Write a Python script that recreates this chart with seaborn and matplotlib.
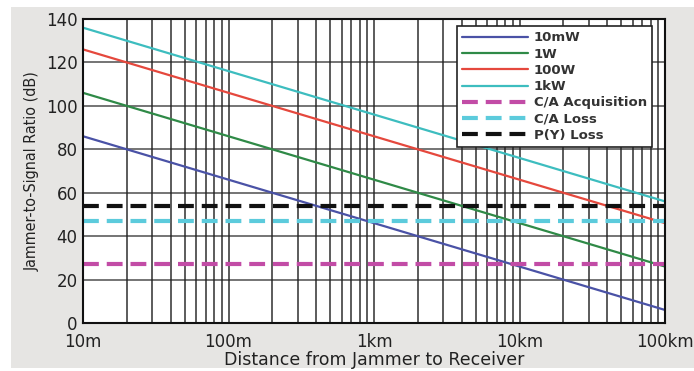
import matplotlib
matplotlib.use("Agg")
import matplotlib.pyplot as plt
import seaborn as sns
from matplotlib.ticker import FixedLocator, NullFormatter

sns.set_theme(style="white")
plt.rcParams["font.family"] = ["DejaVu Sans"]

# distances in metres and J/S values (dB)
distance_m = [10, 100, 1000, 10000, 100000]
js_10mw = [86, 66, 46, 26, 6]
js_1w = [106, 86, 66, 46, 26]
js_100w = [126, 106, 86, 66, 46]
js_1kw = [136, 116, 96, 76, 56]

threshold_names = ["C/A Acquisition", "C/A Loss", "P(Y) Loss"]
threshold_db = [27, 47, 54]

x_tick_vals = [10, 100, 1000, 10000, 100000]
x_tick_labels = ["10m", "100m", "1km", "10km", "100km"]
y_tick_vals = [0, 20, 40, 60, 80, 100, 120, 140]

fig = plt.figure(figsize=(6.94, 3.71), dpi=100)
fig.patch.set_facecolor("white")
# gray panel behind the chart
bg = fig.add_axes([11 / 694, 3 / 371, 683 / 694, 361 / 371])
bg.set_facecolor("#e6e5e3")
bg.set_xticks([])
bg.set_yticks([])
for s in bg.spines.values():
    s.set_visible(False)

ax = fig.add_axes([83 / 694, 48 / 371, 582 / 694, 304 / 371])
ax.set_facecolor("white")

series = [("10mW", js_10mw, "#4a52a6"), ("1W", js_1w, "#2f8a47"),
          ("100W", js_100w, "#e5483d"), ("1kW", js_1kw, "#3dbdbf")]
for name, vals, col in series:
    sns.lineplot(x=distance_m, y=vals, ax=ax, color=col, lw=1.6, label=name)

th_colors = ["#c24ca6", "#5ccbdc", "#111111"]
for name, val, col in zip(threshold_names, threshold_db, th_colors):
    sns.lineplot(x=[distance_m[0], distance_m[-1]], y=[val, val], ax=ax,
                 color=col, lw=3, label=name)
    ax.lines[-1].set_dashes([3.8, 1.9])

ax.set_xscale("log")
ax.set_xlim(10, 100000)
ax.set_ylim(0, 140)
ax.set_xticks(x_tick_vals)
ax.set_xticklabels(x_tick_labels)
ax.xaxis.set_minor_locator(FixedLocator(
    [m * d for d in x_tick_vals[:-1] for m in range(2, 10)]))
ax.xaxis.set_minor_formatter(NullFormatter())
ax.set_yticks(y_tick_vals)
ax.grid(True, which="both", axis="x", color="#222222", lw=1.3, alpha=0.8)
ax.grid(True, which="major", axis="y", color="#222222", lw=1.1, alpha=0.8)
ax.tick_params(axis="both", which="both", length=0, labelsize=12,
               labelcolor="#222222")
ax.tick_params(axis="x", pad=7)
ax.tick_params(axis="y", pad=4)
for s in ax.spines.values():
    s.set_color("#111111")
    s.set_linewidth(1.5)

ax.set_xlabel("Distance from Jammer to Receiver", fontsize=12.5,
              color="#222222", labelpad=0)
ax.set_ylabel("Jammer-to-Signal Ratio (dB)", fontsize=11.5, color="#222222",
              fontstretch="condensed", labelpad=4)

leg = ax.legend(loc="upper right", bbox_to_anchor=(0.978, 0.977),
                frameon=True, fancybox=False, framealpha=1, edgecolor="#222222",
                handlelength=5.0, handletextpad=0.45, borderpad=0.4,
                borderaxespad=0, labelspacing=0.25,
                prop={"family": "DejaVu Sans", "weight": "bold", "size": 9.5})
leg.get_frame().set_linewidth(1.2)
for t in leg.get_texts():
    t.set_color("#333333")

fig.savefig("out.png", dpi=100)
